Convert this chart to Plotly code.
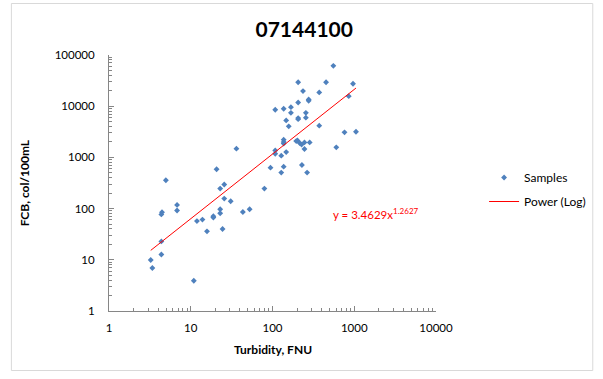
import plotly.graph_objects as go

# ---- data ----
turbidity = [3.24, 3.39, 4.37, 4.37, 4.45, 4.37, 4.96, 6.8, 6.8, 10.9,
             11.9, 13.9, 15.8, 18.9, 18.9, 20.7, 22.9, 22.9, 22.9, 24.5,
             25.7, 25.7, 30.8, 36.2, 43.4, 52.5, 79.6, 94.5, 108, 108,
             108, 128, 128, 137, 137, 137, 137, 137, 147, 147,
             158, 168, 168, 195, 202, 206, 206, 206, 206, 215,
             227, 229, 236, 246, 246, 256, 256, 265, 277, 277,
             285, 373, 373, 452, 555, 603, 760, 857, 966, 1050]
fcb = [9.9, 6.9, 22.9, 12.7, 85, 77, 358, 118, 92, 3.9,
       57, 61, 36, 71, 67, 586, 246, 97, 81, 40,
       295, 157, 139, 1480, 86, 97, 246, 630, 8530, 1370,
       1180, 1080, 505, 8900, 2220, 2000, 1860, 660, 5270, 1270,
       4040, 9570, 7420, 2080, 2150, 29400, 11800, 5850, 5580, 1910,
       1780, 710, 19700, 1960, 1460, 7420, 5970, 505, 13500, 12800,
       1960, 18600, 4170, 29400, 61500, 1570, 3090, 15700, 27500, 3170]

coef_a = 3.4629
coef_b = 1.2627

x_ticks = [1, 10, 100, 1000, 10000]
x_tick_labels = ["1", "10", "100", "1000", "10000"]
y_ticks = [1, 10, 100, 1000, 10000, 100000]
y_tick_labels = ["1", "10", "100", "1000", "10000", "100000"]
minor_digits = [2, 3, 4, 5, 6, 7, 8, 9]

title_text = "07144100"
x_title = "Turbidity, FNU"
y_title = "FCB, col/100mL"
equation_text = "y = 3.4629x<sup>1.2627</sup>"

# trendline through the displayed power fit, over the data's x extent
x_line = [min(turbidity), max(turbidity)]
y_line = [coef_a * v ** coef_b for v in x_line]

x_minor = [d * t for t in x_ticks[:-1] for d in minor_digits]
y_minor = [d * t for t in y_ticks[:-1] for d in minor_digits]

# ---- layout geometry (pixels) ----
W, H = 603, 379
L, R, T, B = 109, 449, 55, 311
pw, ph = R - L, B - T

def px(x):
    return (x - L) / pw

def py(y):
    return (B - y) / ph

FONT = "Lato, Carlito, Calibri, 'Liberation Sans', sans-serif"
AX = "#868686"

fig = go.Figure()
fig.add_trace(go.Scatter(
    x=turbidity, y=fcb, mode="markers", name="Samples", legendgroup="a",
    marker=dict(symbol="diamond", size=4.5, color="#4F81BD"),
))
fig.add_trace(go.Scatter(
    x=x_line, y=y_line, mode="lines", name="Power (Log)", legendgroup="b",
    line=dict(color="#FF0000", width=1),
))

axis_common = dict(
    type="log", showgrid=False, zeroline=False, showline=True,
    linecolor=AX, linewidth=1, ticks="inside", ticklen=5, tickcolor=AX,
    tickfont=dict(family=FONT, size=11.5, color="#000000"),
)

fig.update_layout(
    width=W, height=H,
    margin=dict(l=L, r=W - R, t=T, b=H - B, pad=0),
    paper_bgcolor="white", plot_bgcolor="white",
    font=dict(family=FONT, color="#000000"),
    showlegend=True,
    legend=dict(x=px(499), y=py(163), xanchor="left", yanchor="top",
                font=dict(family=FONT, size=12, color="#000000"),
                tracegroupgap=5, bgcolor="rgba(0,0,0,0)"),
    xaxis=dict(axis_common, range=[0, 4], tickvals=x_ticks, ticktext=x_tick_labels,
               ticklabelstandoff=6,
               minor=dict(ticks="inside", ticklen=3, tickcolor=AX, showgrid=False,
                          tickvals=x_minor)),
    yaxis=dict(axis_common, range=[0, 5], tickvals=y_ticks, ticktext=y_tick_labels,
               ticklabelstandoff=11,
               minor=dict(ticks="inside", ticklen=3, tickcolor=AX, showgrid=False,
                          tickvals=y_minor)),
    title=dict(text=title_text, x=px(312), xanchor="center", xref="paper",
               y=1 - 30 / H, yanchor="middle",
               font=dict(family=FONT, size=21, color="#000000", weight="bold")),
    annotations=[
        dict(text=equation_text, xref="paper", yref="paper", x=px(340), y=py(213),
             xanchor="left", yanchor="middle", showarrow=False,
             font=dict(family=FONT, size=11.5, color="#FF0000")),
        dict(text=x_title, xref="paper", yref="paper", x=px(279), y=py(349),
             xanchor="center", yanchor="middle", showarrow=False,
             font=dict(family=FONT, size=12, color="#000000", weight="bold")),
        dict(text=y_title, xref="paper", yref="paper", x=px(21), y=py(183),
             xanchor="center", yanchor="middle", showarrow=False, textangle=-90,
             font=dict(family=FONT, size=12, color="#000000", weight="bold")),
    ],
    shapes=[dict(type="rect", xref="paper", yref="paper",
                 x0=px(7.5), x1=px(612), y0=py(370.5), y1=py(3.5),
                 line=dict(color="#D9D9D9", width=1), layer="below")],
)

fig.write_html(
    "out.html",
    config={"displayModeBar": False},
    post_script="document.body.style.margin='0';document.body.style.overflow='hidden';",
)
